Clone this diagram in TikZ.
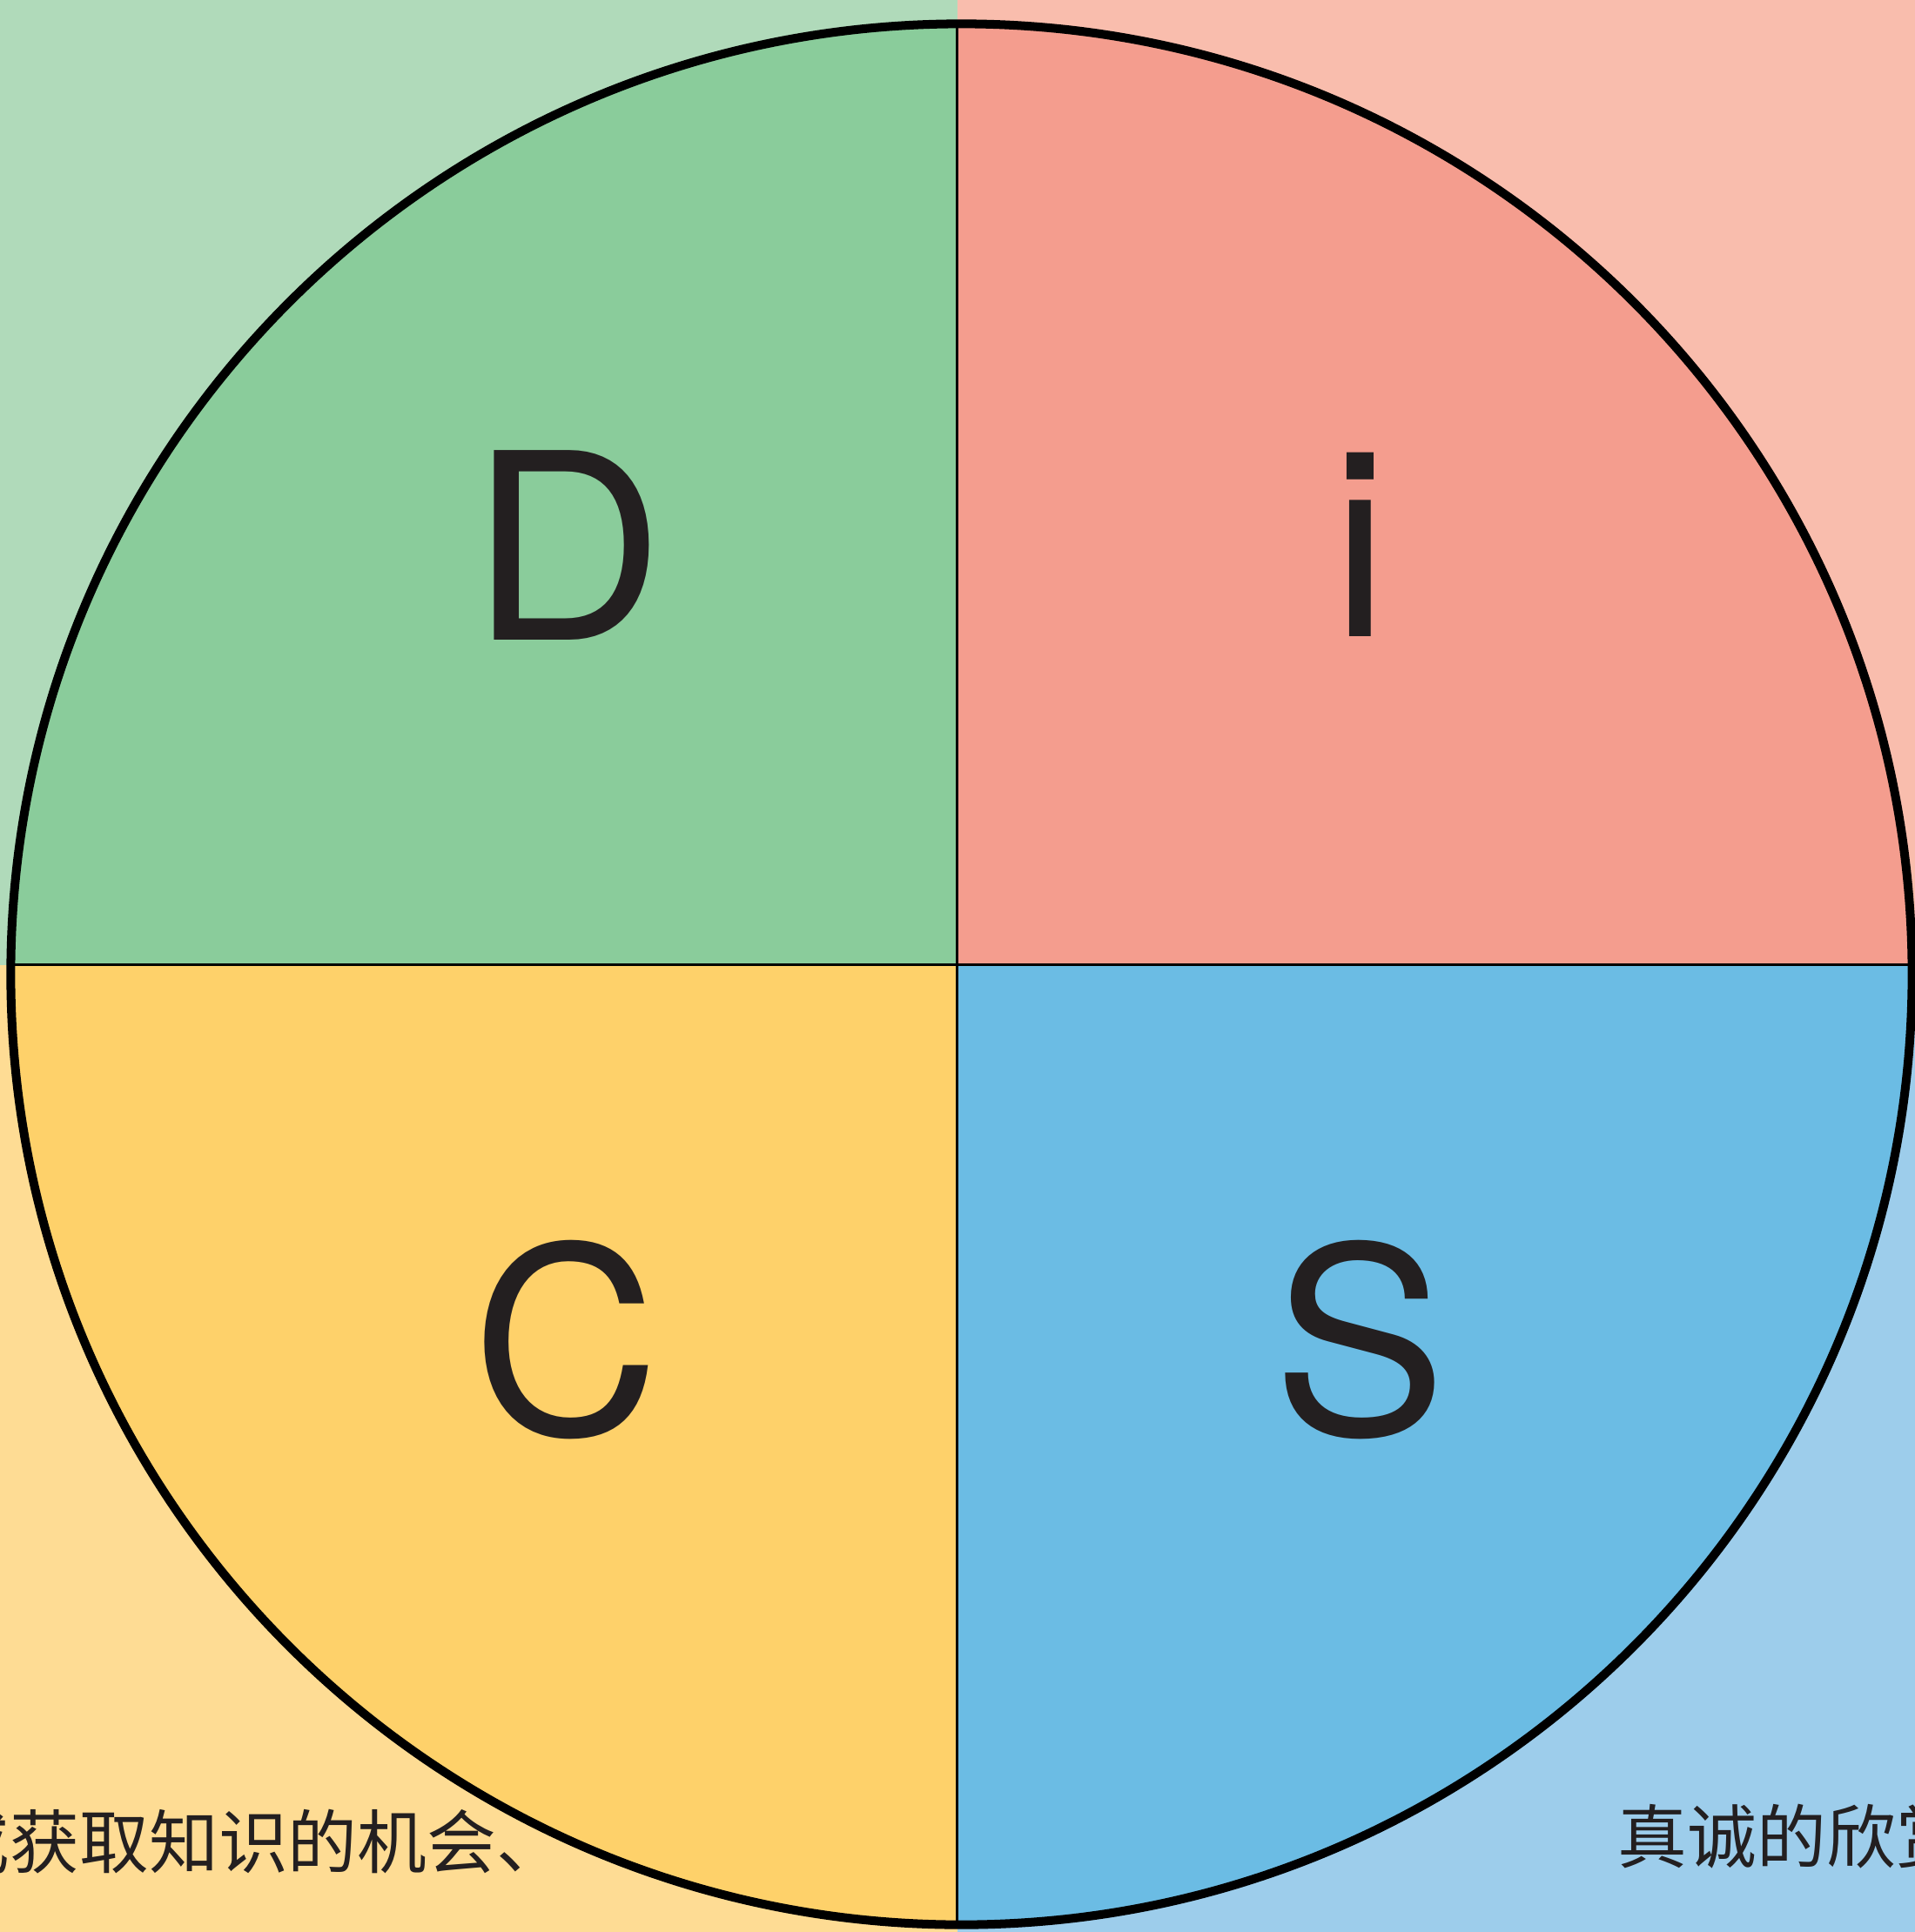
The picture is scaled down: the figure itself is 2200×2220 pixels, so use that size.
\documentclass[tikz,border=0pt]{standalone}
\usepackage{fontspec}
\setmainfont{TeX Gyre Heros}
\newfontfamily\cjk{Noto Sans CJK SC}
\usepackage{tikz}

\definecolor{dLight}{HTML}{B0DABA}
\definecolor{dFill}{HTML}{8ACC9B}
\definecolor{iLight}{HTML}{F9BDAD}
\definecolor{iFill}{HTML}{F49D8E}
\definecolor{cLight}{HTML}{FEDC94}
\definecolor{cFill}{HTML}{FED16A}
\definecolor{sLight}{HTML}{9DCDEB}
\definecolor{sFill}{HTML}{6BBCE4}
\definecolor{ink}{HTML}{231F20}

\tikzset{
  letter/.style={inner sep=0pt, text=ink, font=\fontsize{85}{90}\selectfont},
  note/.style={inner sep=0pt, text=ink, anchor=base west, font=\cjk\fontsize{22.7}{26}\selectfont},
}

\begin{document}
\begin{tikzpicture}[x=0.01cm, y=-0.01cm]
  \useasboundingbox (0,0) rectangle (2200,2220);
  \clip (0,0) rectangle (2200,2220);
  \coordinate (ctr) at (1104.5,1119.5);
  \coordinate (mid) at (1099.5,1108.5);
  % light background quarters
  \fill[dLight] (0,0) rectangle (mid);
  \fill[iLight] (2200,0) rectangle (mid);
  \fill[cLight] (0,2220) rectangle (mid);
  \fill[sLight] (2200,2220) rectangle (mid);
  % quarters of the wheel
  \begin{scope}
    \clip (ctr) circle[radius=10.915cm];
    \fill[dFill] (0,0) rectangle (mid);
    \fill[iFill] (2200,0) rectangle (mid);
    \fill[cFill] (0,2220) rectangle (mid);
    \fill[sFill] (2200,2220) rectangle (mid);
  \end{scope}
  \draw[line width=1pt] (1099.5,28) -- (1099.5,2211);
  \draw[line width=1pt] (13,1108.5) -- (2196,1108.5);
  \draw[line width=2.85pt] (ctr) circle[radius=10.915cm];
  % letters
  \node[letter, anchor=base, xscale=1.03] (dLab) at (652,735) {D};
  \node[letter, anchor=base] (iLab) at (1563,731) {i};
  \node[letter, anchor=base] (cLab) at (650,1648) {C};
  \node[letter, anchor=base] (sLab) at (1562,1648) {S};
  % cut-off notes
  \node[note] (cNote) at (-69,2146) {或获取知识的机会、};
  \node[note] (sNote) at (1858,2140) {真诚的欣赏};
\end{tikzpicture}
\end{document}
